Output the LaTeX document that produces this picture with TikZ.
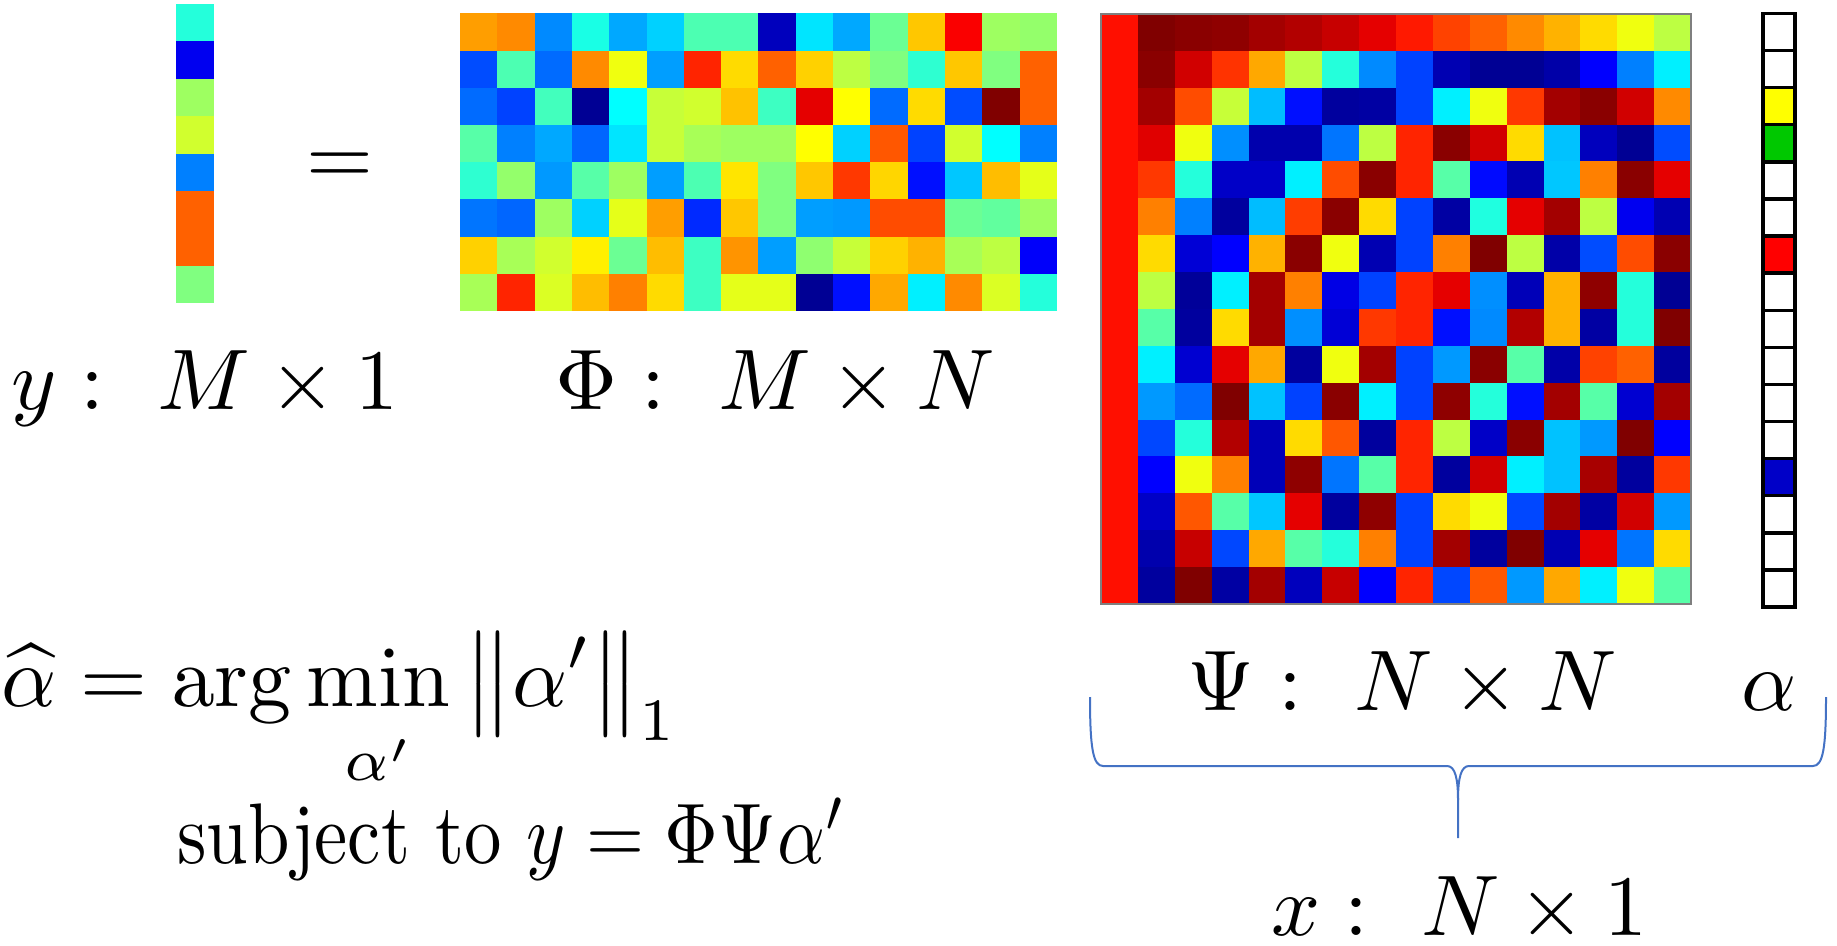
\documentclass[tikz,border=0pt]{standalone}
\usepackage{xcolor}
\usepackage{tikz}
\definecolor{braceblue}{HTML}{4472C4}
\definecolor{framegray}{HTML}{7F7F7F}
\definecolor{alphayellow}{HTML}{FFFF00}
\definecolor{alphagreen}{HTML}{00C800}
\definecolor{alphared}{HTML}{FF0000}
\definecolor{alphablue}{HTML}{0000C8}

\newcommand{\jetcolor}[1]{%
  \pgfmathsetmacro{\jetR}{max(0,min(1,1.5-abs(4*#1/100-3)))}%
  \pgfmathsetmacro{\jetG}{max(0,min(1,1.5-abs(4*#1/100-2)))}%
  \pgfmathsetmacro{\jetB}{max(0,min(1,1.5-abs(4*#1/100-1)))}%
  \definecolor{jet}{rgb}{\jetR,\jetG,\jetB}}

\tikzset{
  dimlabel/.style={inner sep=0pt, anchor=base west, font=\fontsize{10}{12}\selectfont,
    scale=4.3, transform shape},
  bracepath/.style={braceblue, line width=1pt}
}

\begin{document}
\begin{tikzpicture}[x=0.5pt,y=-0.5pt]
      \useasboundingbox (0,0) rectangle (1837,946);
      \foreach \v [count=\i] in {41,11,53,58,25,78,78,50} {
        \jetcolor{\v}
        \fill[jet] (176,{4+(\i-1)*37.4}) rectangle ++(38,37.7);
      }
      \foreach \row [count=\i] in {
          {72,74,26,40,29,33,45,45,6,35,29,48,68,88,53,52},
          {20,45,23,74,61,28,84,66,78,67,56,50,42,68,50,78},
          {23,19,44,2,37.5,57,58,68.5,43.5,90,62.5,23,66,20,100,78},
          {46,25,29,22.5,35,57,54,53,53,62.5,33,79,19,58,37.5,25},
          {42,52,27.5,46,53,28,45,65,50,68,82,66.5,14,32,69,60},
          {24,22.5,53,33,60,72,16.5,68,50,28,27.5,80,80,48,47,53},
          {67,54,58,64,48,69,43.5,73,28,51.5,57,67,70,54,56,12},
          {54,84,59,69,75,66,43.5,60,60,2,14,71,36,74,59,41}} {
        \foreach \v [count=\j] in \row {
          \jetcolor{\v}
          \fill[jet] ({460+(\j-1)*37.3},{13.5+(\i-1)*37.2}) rectangle ++(37.6,37.5);
        }
      }
      \foreach \row [count=\i] in {
          {86,100,99,98.5,96.5,95,93,90,85,81,78,74,70,66,61,56},
          {86,99,92,82.5,71,56,41,26,19,5,2,2,4,12.5,25,36},
          {86,96.5,80,57,31,14,3,3.5,19,36,61,82,96.5,99,92,74},
          {86,90.5,61,26.5,4.5,4.5,24,56,84,99,92,66,31.5,6,2,20},
          {86,82,41,7,7,36,80,99,84,46,13.5,5,32,75,99,90},
          {86,75,25,3,31,81.5,99,66,19,3.5,40.5,90,96.5,56,11,5},
          {86,66,8.5,12.5,70,99,61,5,19,75,100,56,4,20,80,99},
          {86,56,2.5,36,96.5,75,10,19,84,90,26.5,5.5,70,98.5,41,2},
          {86,46,3,66,96.5,26.5,8.5,82,84,14,26,95,70,3.5,41,100},
          {86,36,8,90,71,3,61,96.5,19,27.5,99,46,4,81,78,3},
          {86,27.5,23,100,31.5,19,99,36,19,98.5,41,14,96.5,46,8,96.5},
          {86,19.5,41,95,5.5,66,79,3,84,56,7,99,31.5,27.5,100,12.5},
          {86,12.5,61,75,5.5,98.5,24,46,84,3,92,36,31.5,96,3,82},
          {86,7,79,46,32,90,3,98.5,19,66,61,19.5,96.5,3.5,92,27.5},
          {86,4.5,93,19.5,71,46,41,75,19,96.5,3,100,5,90,24,66},
          {86,3,100,3.5,96.5,6,93,12.5,84,19.5,79,27.5,71,36,61,46}} {
        \foreach \v [count=\j] in \row {
          \jetcolor{\v}
          \fill[jet] ({1101+(\j-1)*36.875},{14+(\i-1)*36.875}) rectangle ++(37.2,37.2);
        }
      }
      \draw[framegray, line width=0.6pt] (1101,14) rectangle (1691,604);
      \foreach \c [count=\i] in {white,white,alphayellow,alphagreen,white,white,alphared,white,
                                 white,white,white,white,alphablue,white,white,white} {
        \draw[line width=1.7pt, fill=\c] (1763,{13.5+(\i-1)*37.1}) rectangle ++(32,37.1);
      }

      \node[dimlabel, anchor=base] (eqsign) at (340,184.5) {$=$};
      \node[dimlabel] (ylab) at (10,410) {$y :\ M \times 1$};
      \node[dimlabel] (philab) at (554,410) {$\Phi :\ M \times N$};
      \node[dimlabel] (psilab) at (1186,710) {$\Psi :\ N \times N$};
      \node[dimlabel] (alab) at (1740,710) {$\alpha$};
      \node[dimlabel] (xlab) at (1270,935) {$x :\ N \times 1$};
      \node[dimlabel] (argmin) at (0,706)
        {$\displaystyle \widehat{\alpha} = \arg\min_{\rule{0pt}{7pt}\alpha'} \big\|\alpha'\big\|_1$};
      \node[dimlabel, xscale=0.868] (subj) at (176,863) {subject to $y = \Phi\Psi\alpha'$};

      \coordinate (brL) at (1090,697);
      \coordinate (brR) at (1826,697);
      \coordinate (brTip) at (1458,838);
      \draw[bracepath] (brL) .. controls (1090,748) and (1093,766) .. (1103,766)
        -- (1447,766) .. controls (1455,766) and (1458,778) .. (1458,800) -- (brTip);
      \draw[bracepath] (brR) .. controls (1826,748) and (1823,766) .. (1813,766)
        -- (1469,766) .. controls (1461,766) and (1458,778) .. (1458,800);
    \end{tikzpicture}
\end{document}
